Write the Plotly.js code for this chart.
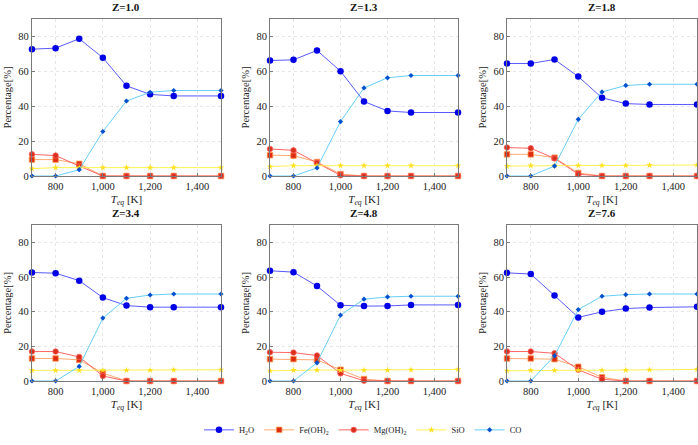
<!DOCTYPE html>
<html>
<head>
<meta charset="utf-8">
<script src="https://cdn.plot.ly/plotly-3.0.1.min.js"></script>
<style>
  html, body { margin: 0; padding: 0; background: #fff; }
  #chart { width: 698px; height: 445px; }
</style>
</head>
<body>
<div id="chart"></div>
<script>
// Temperatures (K) shared by every panel
const temps = [700, 800, 900, 1000, 1100, 1200, 1300, 1500];

// Panel titles
const panelTitles = ['Z=1.0', 'Z=1.3', 'Z=1.8', 'Z=3.4', 'Z=4.8', 'Z=7.6'];

// Percentages per panel
const h2o = [
    [72.7, 73.3, 78.7, 67.8, 51.7, 46.8, 45.9, 45.9],
    [66.2, 66.6, 72.0, 60.1, 42.7, 37.3, 36.4, 36.4],
    [64.5, 64.5, 66.8, 57.0, 44.8, 41.5, 41.0, 41.0],
    [62.6, 62.2, 57.9, 48.1, 43.5, 42.6, 42.6, 42.6],
    [63.6, 62.8, 54.8, 43.7, 43.2, 43.3, 43.9, 43.9],
    [62.4, 61.7, 49.3, 36.7, 39.9, 41.8, 42.4, 42.8]
];
const feoh2 = [
    [9.4, 9.4, 7.0, 0, 0, 0, 0, 0],
    [11.9, 11.7, 8.0, 1.1, 0, 0, 0, 0],
    [12.4, 12.4, 10.5, 1.7, 0, 0, 0, 0],
    [13.0, 13.0, 12.2, 4.6, 0, 0, 0, 0],
    [12.6, 12.6, 12.2, 6.5, 1.1, 0, 0, 0],
    [13.0, 13.0, 12.6, 8.2, 2.1, 0, 0, 0]
];
const mgoh2 = [
    [12.4, 11.7, 5.7, 0, 0, 0, 0, 0],
    [15.5, 14.7, 7.5, 0.4, 0, 0, 0, 0],
    [16.3, 15.9, 10.1, 1.0, 0, 0, 0, 0],
    [17.0, 17.0, 13.9, 2.9, 0, 0, 0, 0],
    [16.6, 16.4, 14.7, 4.4, 0.2, 0, 0, 0],
    [17.0, 17.0, 16.0, 6.5, 1.0, 0, 0, 0]
];
const sio = [
    [4.2, 4.8, 4.8, 4.8, 4.8, 4.8, 4.8, 4.8],
    [5.4, 5.9, 5.9, 5.9, 5.9, 5.9, 5.9, 5.9],
    [5.7, 5.9, 5.9, 6.0, 6.0, 6.0, 6.2, 6.3],
    [6.1, 6.1, 6.1, 6.2, 6.2, 6.2, 6.4, 6.5],
    [5.9, 6.3, 6.3, 6.3, 6.3, 6.3, 6.4, 6.7],
    [5.9, 6.1, 6.1, 6.2, 6.2, 6.3, 6.5, 6.7]
];
const co = [
    [0, 0, 3.6, 25.5, 43.0, 48.0, 49.0, 49.0],
    [0, 0, 4.6, 31.2, 50.5, 56.3, 57.6, 57.6],
    [0, 0, 5.7, 32.5, 48.2, 51.9, 52.6, 52.6],
    [0, 0, 8.4, 36.3, 47.7, 49.6, 50.2, 50.2],
    [0, 0, 10.5, 38.0, 47.2, 48.5, 48.9, 48.9],
    [0, 0, 14.5, 41.2, 48.9, 49.8, 50.2, 50.2]
];

const species = [
    { name: 'H<sub>2</sub>O', data: h2o, line: '#4646ff',
      marker: { symbol: 'circle', size: 6.5, color: '#0000e6', line: { color: '#0000e6', width: 0 } } },
    { name: 'Fe(OH)<sub>2</sub>', data: feoh2, line: '#ffa060',
      marker: { symbol: 'square', size: 5.5, color: '#dd2a10', line: { color: '#ff9a50', width: 0.8 } } },
    { name: 'Mg(OH)<sub>2</sub>', data: mgoh2, line: '#ff5555',
      marker: { symbol: 'circle', size: 5.5, color: '#d8301c', line: { color: '#ff6060', width: 0.8 } } },
    { name: 'SiO', data: sio, line: '#fff040',
      marker: { symbol: 'star', size: 5, color: '#ffe020', line: { width: 0 } } },
    { name: 'CO', data: co, line: '#55c8f5',
      marker: { symbol: 'diamond', size: 4, color: '#0050d0', line: { width: 0 } } }
];

// Panel placement (paper fractions)
const colDomains = [[0.0458, 0.3166], [0.3868, 0.6562], [0.7264, 0.9986]];
const rowDomains = [[0.6045, 0.9573], [0.1438, 0.4944]];

const serif = "'Liberation Serif', 'DejaVu Serif', serif";
const frameColor = '#7a7a7a';

const traces = [];
const layout = {
    width: 698,
    height: 445,
    margin: { l: 0, r: 0, t: 0, b: 0 },
    paper_bgcolor: '#ffffff',
    plot_bgcolor: '#ffffff',
    font: { family: serif, size: 10, color: '#222' },
    showlegend: true,
    legend: {
        orientation: 'h',
        x: 0.52, xanchor: 'center',
        y: 0.034, yanchor: 'middle',
        font: { family: serif, size: 8.5, color: '#222' },
        itemwidth: 30,
        tracegroupgap: 0
    },
    annotations: []
};

panelTitles.forEach((title, p) => {
    const row = Math.floor(p / 3);
    const col = p % 3;
    const idx = p === 0 ? '' : String(p + 1);
    const xName = 'x' + idx;
    const yName = 'y' + idx;

    species.forEach(s => {
        traces.push({
            x: temps,
            y: s.data[p],
            xaxis: xName,
            yaxis: yName,
            type: 'scatter',
            mode: 'lines+markers',
            name: s.name,
            legendgroup: s.name,
            showlegend: p === 0,
            line: { color: s.line, width: 0.9 },
            marker: s.marker,
            cliponaxis: false,
            hoverinfo: 'skip'
        });
    });

    const common = {
        showline: true,
        mirror: true,
        linecolor: frameColor,
        linewidth: 1,
        ticks: 'inside',
        ticklen: 3,
        tickcolor: frameColor,
        showgrid: true,
        gridcolor: '#dcdcdc',
        griddash: 'dot',
        gridwidth: 0.7,
        zeroline: false,
        tickfont: { family: serif, size: 10.5, color: '#222' }
    };

    layout['xaxis' + idx] = {
        ...common,
        domain: colDomains[col],
        anchor: yName,
        range: [700, 1500],
        tick0: 0,
        dtick: 200,
        tickformat: ',d',
        title: { text: '<i>T</i><sub><i>eq</i></sub> [K]', font: { family: serif, size: 11 }, standoff: 4 }
    };
    layout['yaxis' + idx] = {
        ...common,
        domain: rowDomains[row],
        anchor: xName,
        range: [0, 90],
        tick0: 0,
        dtick: 20,
        title: { text: 'Percentage[%]', font: { family: serif, size: 10.5 }, standoff: 4 }
    };

    layout.annotations.push({
        text: '<b>' + title + '</b>',
        xref: 'paper', yref: 'paper',
        x: (colDomains[col][0] + colDomains[col][1]) / 2,
        y: rowDomains[row][1] + 0.008,
        xanchor: 'center', yanchor: 'bottom',
        showarrow: false,
        font: { family: serif, size: 11, color: '#111' }
    });
});

Plotly.newPlot('chart', traces, layout, { displayModeBar: false, staticPlot: true });
</script>
</body>
</html>
